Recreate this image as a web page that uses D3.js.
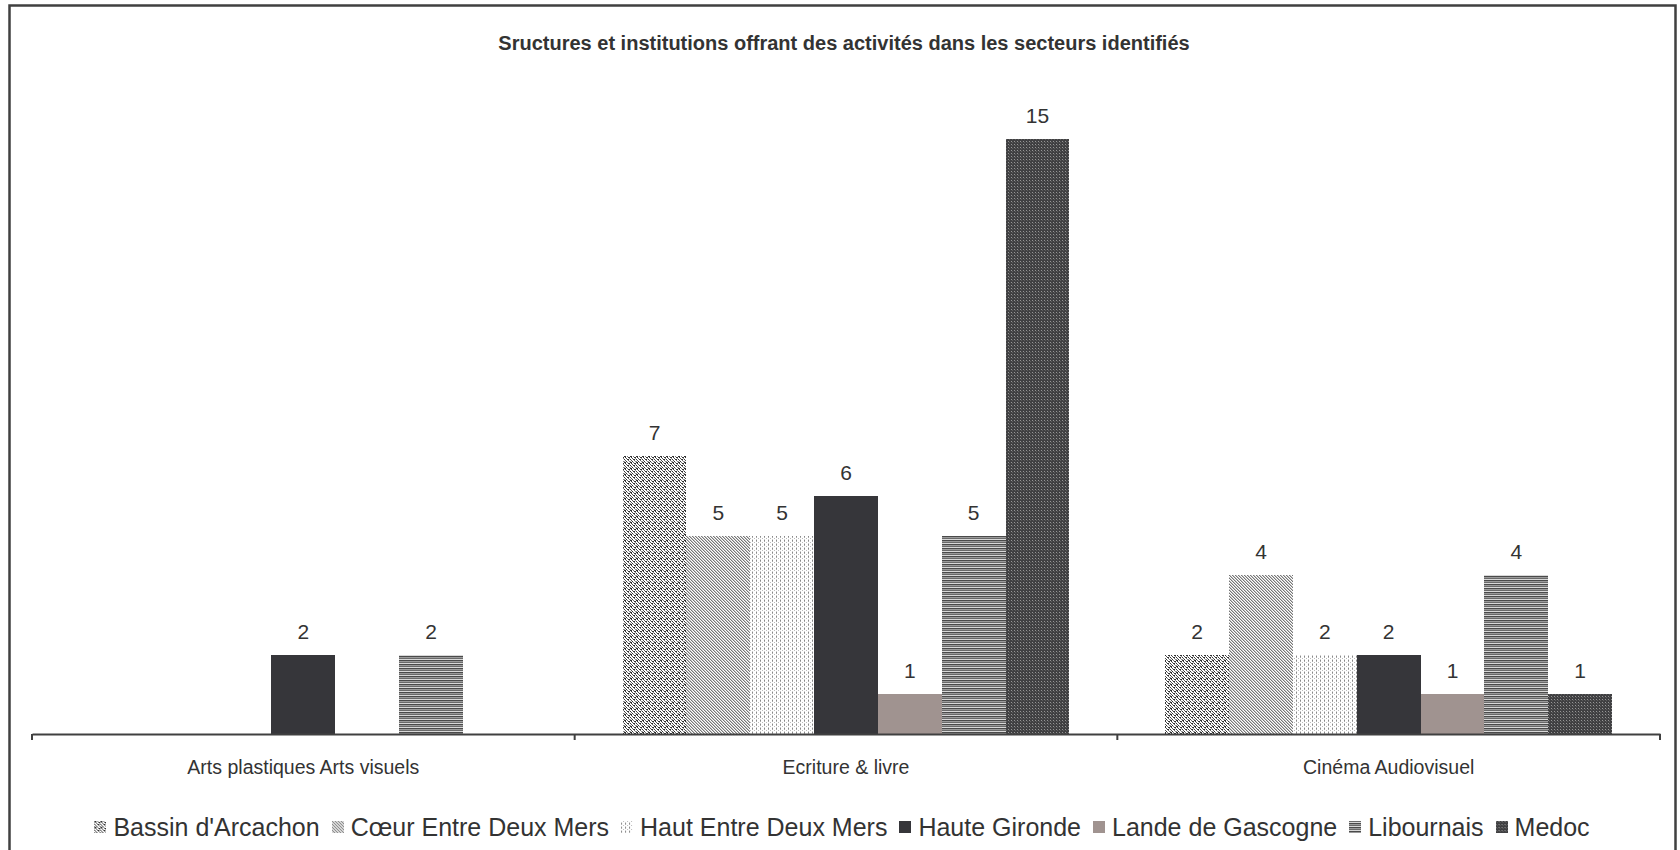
<!DOCTYPE html>
<html>
<head>
<meta charset="utf-8">
<script src="https://cdn.jsdelivr.net/npm/d3@7"></script>
<style>
  html, body { margin: 0; padding: 0; background: #fff; }
  svg { display: block; font-family: "Liberation Sans", Arial, sans-serif; }
</style>
</head>
<body>
<svg id="chart" width="1680" height="850"></svg>
<script>
// ---- Data ----
const title = "Sructures et institutions offrant des activités dans les secteurs identifiés";
const categories = ["Arts plastiques Arts visuels", "Ecriture & livre", "Cinéma Audiovisuel"];
const seriesNames = ["Bassin d'Arcachon", "Cœur Entre Deux Mers", "Haut Entre Deux Mers", "Haute Gironde", "Lande de Gascogne", "Libournais", "Medoc"];
const bassinArcachon     = [null, 7, 2];
const coeurEntreDeuxMers = [null, 5, 4];
const hautEntreDeuxMers  = [null, 5, 2];
const hauteGironde       = [2, 6, 2];
const landeGascogne      = [null, 1, 1];
const libournais         = [2, 5, 4];
const medoc              = [null, 15, 1];
const seriesValues = [bassinArcachon, coeurEntreDeuxMers, hautEntreDeuxMers, hauteGironde, landeGascogne, libournais, medoc];

const svg = d3.select("#chart");
const textColor = "#333333";

// ---- Patterns ----
const defs = svg.append("defs");
function pixPattern(id, size, bg, pixels) {
  const p = defs.append("pattern").attr("id", id).attr("patternUnits", "userSpaceOnUse")
    .attr("width", size[0]).attr("height", size[1]);
  p.append("rect").attr("width", size[0]).attr("height", size[1]).attr("fill", bg).attr("shape-rendering", "crispEdges");
  pixels.forEach(([x, y, c, w, h]) => {
    p.append("rect").attr("x", x).attr("y", y).attr("width", w || 1).attr("height", h || 1)
      .attr("fill", c).attr("shape-rendering", "crispEdges");
  });
  return "url(#" + id + ")";
}
const fills = [
  pixPattern("pBassin", [6, 6], "#ffffff", [
    [0,0,"#333",2,1],[3,0,"#777"],[1,1,"#333"],[4,1,"#333",2,1],[2,2,"#555"],[5,2,"#888"],
    [0,3,"#333"],[3,3,"#333",2,1],[1,4,"#555"],[4,4,"#666"],[2,5,"#333"],[5,5,"#888"],[0,5,"#999"]]),
  pixPattern("pCoeur", [3, 3], "#ffffff", [
    [0,0,"#777"],[1,1,"#777"],[2,2,"#777"],[1,0,"#c4c4c4"],[2,1,"#c4c4c4"],[0,2,"#c4c4c4"]]),
  pixPattern("pHaut", [4, 4], "#ffffff", [
    [0,0,"#888"],[0,1,"#aaa"],[2,2,"#bbb"],[0,3,"#ccc"]]),
  "#36363a",
  "#a09390",
  pixPattern("pLib", [1, 4], "#d8d8d8", [
    [0,0,"#4a4a4a"],[0,1,"#9a9a9a"],[0,2,"#6a6a6a"]]),
  pixPattern("pMedoc", [3, 3], "#404042", [
    [0,0,"#959595"],[1,1,"#5e5e5e"]])
];

// ---- Frame ----
svg.append("path").attr("d", "M9.5,852 V5.5 H1675.5 V852")
  .attr("fill", "none").attr("stroke", "#404040").attr("stroke-width", 2.5);

// ---- Title ----
svg.append("text").attr("x", 844).attr("y", 50).attr("text-anchor", "middle")
  .attr("font-size", 20).attr("font-weight", "bold").attr("fill", textColor).text(title);

// ---- Scales ----
const x0 = d3.scaleBand().domain(categories).range([32, 1660]).paddingInner(0).paddingOuter(0);
const bandW = x0.bandwidth();
const edge = bandW * 0.75 / 8.5;
const x1 = d3.scaleBand().domain(seriesNames).range([edge, bandW - edge]).padding(0);
const y = d3.scaleLinear().domain([0, 16]).range([734, 99]);

// ---- Bars ----
const rows = [];
seriesNames.forEach((s, si) => {
  categories.forEach((c, ci) => {
    const v = seriesValues[si][ci];
    if (v != null) rows.push({ s, si, c, v });
  });
});
const g = svg.append("g");
g.selectAll("rect.bar").data(rows).join("rect").attr("class", "bar")
  .attr("x", d => x0(d.c) + x1(d.s))
  .attr("y", d => y(d.v))
  .attr("width", x1.bandwidth())
  .attr("height", d => y(0) - y(d.v))
  .attr("fill", d => fills[d.si])
  .attr("shape-rendering", "crispEdges");

g.selectAll("text.val").data(rows).join("text").attr("class", "val")
  .attr("x", d => x0(d.c) + x1(d.s) + x1.bandwidth() / 2)
  .attr("y", d => y(d.v) - 16)
  .attr("text-anchor", "middle").attr("font-size", 21).attr("fill", textColor)
  .text(d => d.v);

// ---- Axis ----
const axis = svg.append("g").attr("transform", "translate(0,734)")
  .call(d3.axisBottom(x0).tickSize(0).tickPadding(26));
axis.select(".domain").attr("stroke", "#404040").attr("stroke-width", 2);
axis.selectAll("text").attr("font-size", 19.5).attr("fill", textColor)
  .attr("font-family", "'Liberation Sans', Arial, sans-serif");
const bounds = categories.map(c => x0(c)).concat([x0(categories[categories.length - 1]) + bandW]);
axis.selectAll("line.bound").data(bounds).join("line").attr("class", "bound")
  .attr("x1", d => d).attr("x2", d => d).attr("y1", 0).attr("y2", 6)
  .attr("stroke", "#404040").attr("stroke-width", 2);

// ---- Legend ----
const legend = svg.append("g").attr("transform", "translate(0,827)");
const legFont = 25, marker = 12, gapM = 7, gapItem = 12;
const items = legend.selectAll("g.item").data(seriesNames).join("g").attr("class", "item");
items.append("rect").attr("width", marker).attr("height", marker).attr("y", -marker / 2)
  .attr("fill", (d, i) => fills[i]).attr("shape-rendering", "crispEdges");
items.append("text").attr("x", marker + gapM).attr("dy", "0.36em")
  .attr("font-size", legFont).attr("fill", textColor).text(d => d);
const widths = [];
items.each(function () {
  widths.push(marker + gapM + this.querySelector("text").getComputedTextLength());
});
const total = d3.sum(widths) + gapItem * (widths.length - 1);
let xs = 842 - total / 2;
items.attr("transform", (d, i) => {
  const t = "translate(" + xs + ",0)";
  xs += widths[i] + gapItem;
  return t;
});
</script>
</body>
</html>
